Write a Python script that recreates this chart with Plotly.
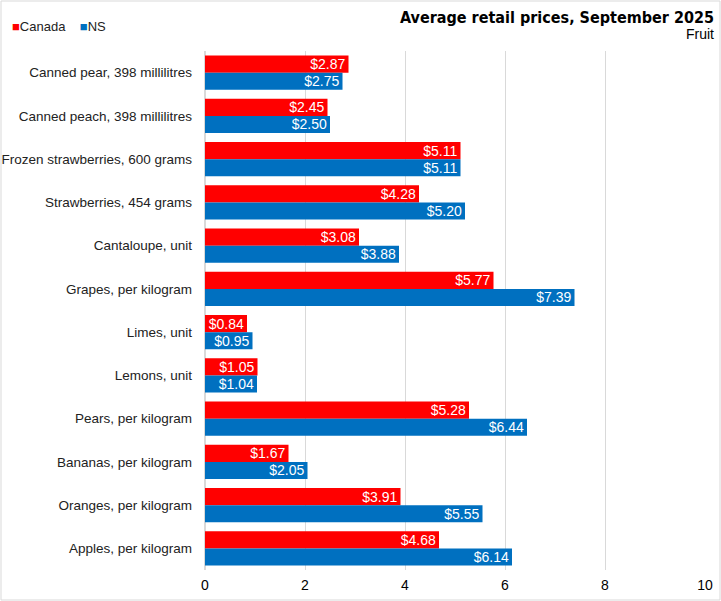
import plotly.graph_objects as go

categories = [
    "Canned pear, 398 millilitres",
    "Canned peach, 398 millilitres",
    "Frozen strawberries, 600 grams",
    "Strawberries, 454 grams",
    "Cantaloupe, unit",
    "Grapes, per kilogram",
    "Limes, unit",
    "Lemons, unit",
    "Pears, per kilogram",
    "Bananas, per kilogram",
    "Oranges, per kilogram",
    "Apples, per kilogram",
]
canada = [2.87, 2.45, 5.11, 4.28, 3.08, 5.77, 0.84, 1.05, 5.28, 1.67, 3.91, 4.68]
ns = [2.75, 2.50, 5.11, 5.20, 3.88, 7.39, 0.95, 1.04, 6.44, 2.05, 5.55, 6.14]
tick_vals = [0, 2, 4, 6, 8, 10]

W, H = 721, 601
L, R, T, B = 205, 16, 51, 31
pw, ph = W - L - R, H - T - B

fig = go.Figure()
for name, vals, col in [("Canada", canada, "#FF0000"), ("NS", ns, "#0070C0")]:
    fig.add_trace(go.Bar(
        name=name, y=categories, x=vals, orientation="h",
        marker=dict(color=col, line=dict(width=0)),
        text=[f"${v:.2f}" for v in vals], textposition="inside",
        insidetextanchor="end",
        textfont=dict(color="white", size=14, family="Liberation Sans"),
        showlegend=False,
    ))

fig.update_layout(
    width=W, height=H,
    margin=dict(l=L, r=R, t=T, b=B),
    barmode="group", bargap=0.21, bargroupgap=0,
    plot_bgcolor="white", paper_bgcolor="white",
    font=dict(family="Liberation Sans", size=13.5, color="#222"),
    uniformtext=dict(minsize=14, mode="show"),
    xaxis=dict(range=[0, 10], tickvals=tick_vals, showgrid=True,
               gridcolor="#D9D9D9", zeroline=True, zerolinecolor="#D9D9D9",
               ticks="", ticklabelstandoff=5,
               tickfont=dict(size=14, color="#000"), automargin=False),
    yaxis=dict(autorange="reversed", ticks="", ticklabelstandoff=12,
               tickfont=dict(size=13.5, color="#222"), showgrid=False,
               automargin=False),
    annotations=[
        dict(text="<span style='color:#FF0000'>■</span>Canada    <span style='color:#0070C0'>■</span>NS",
             xref="paper", yref="paper", x=(10 - L) / pw, y=1 + (T - 26) / ph,
             xanchor="left", yanchor="middle", showarrow=False,
             font=dict(size=13, color="#222")),
        dict(text="<b>Average retail prices, September 2025</b>",
             xref="paper", yref="paper", x=(716 - L) / pw, y=1 + (T - 17) / ph,
             xanchor="right", yanchor="middle", showarrow=False,
             font=dict(family="DejaVu Sans Condensed", size=16, color="#000")),
        dict(text="Fruit", xref="paper", yref="paper", x=(716 - L) / pw,
             y=1 + (T - 34) / ph, xanchor="right", yanchor="middle",
             showarrow=False, font=dict(size=14, color="#000")),
    ],
    shapes=[dict(type="rect", xref="paper", yref="paper",
                 x0=(1 - L) / pw, x1=(W - 1 - L) / pw,
                 y0=-(B - 1) / ph, y1=1 + (T - 1) / ph,
                 line=dict(color="#D9D9D9", width=1), fillcolor="rgba(0,0,0,0)")],
)

fig.write_html("out.html", config={"displayModeBar": False},
               post_script="document.body.style.margin='0';document.body.style.overflow='hidden';")
